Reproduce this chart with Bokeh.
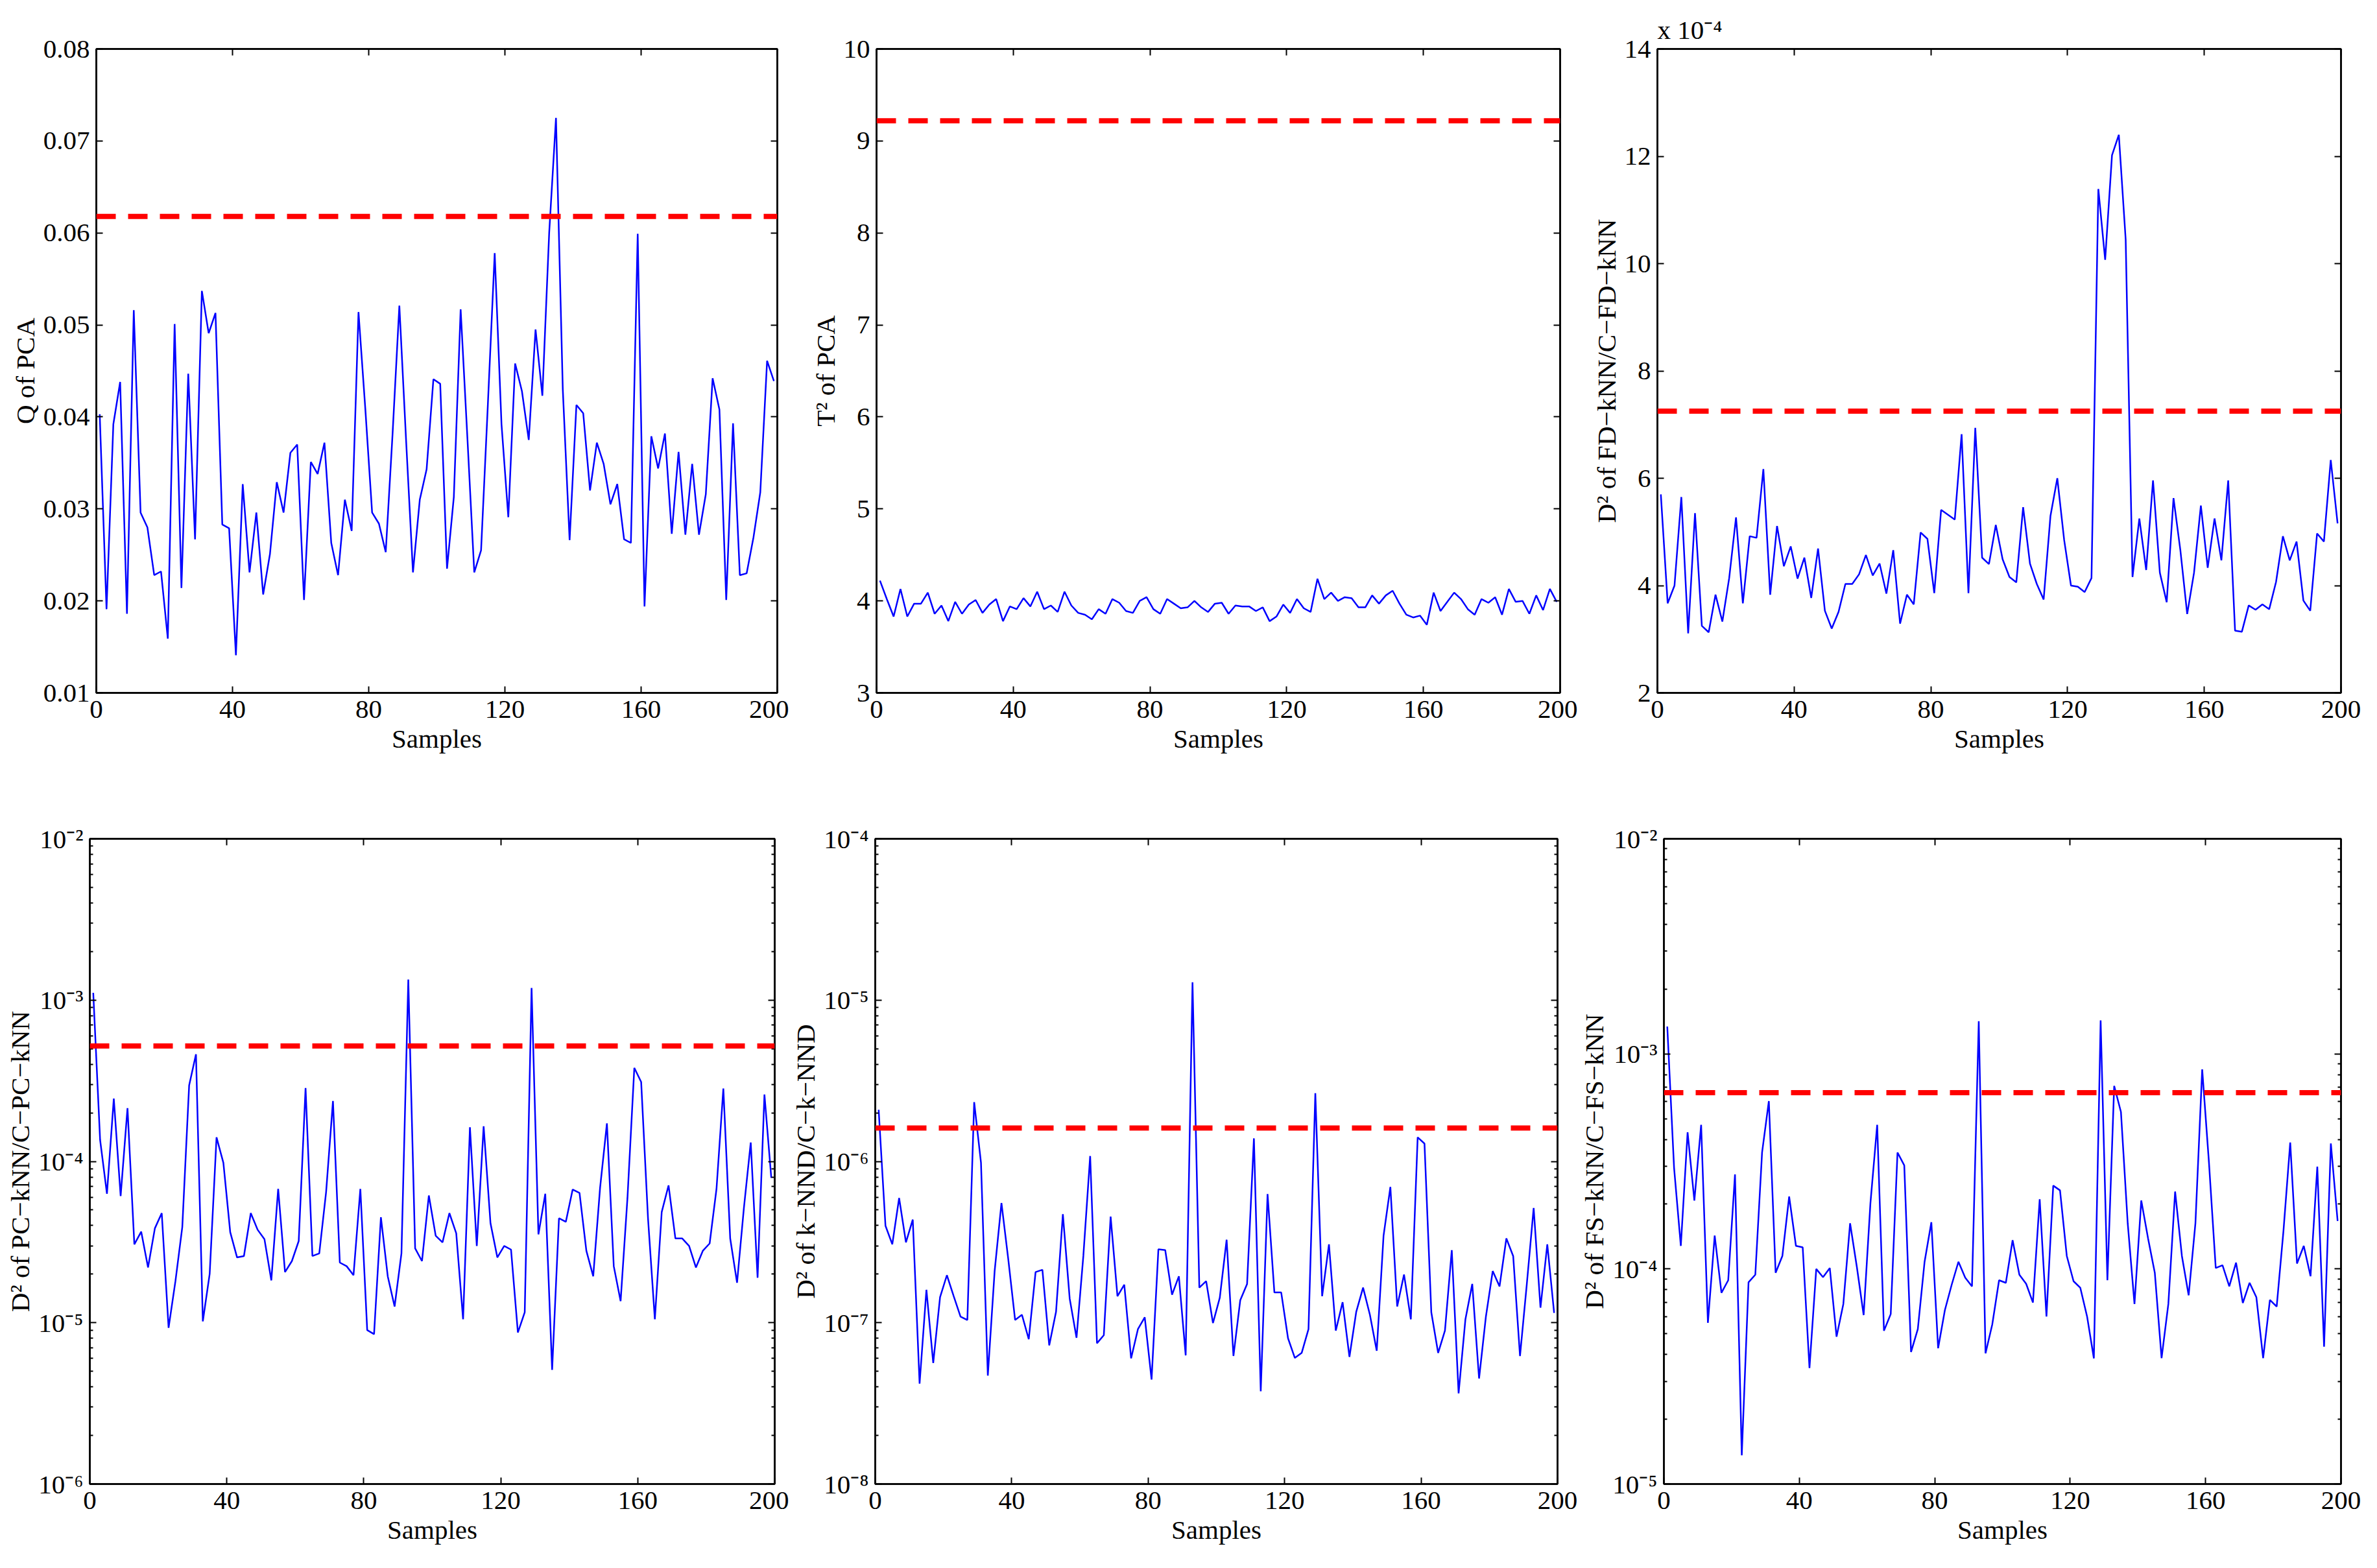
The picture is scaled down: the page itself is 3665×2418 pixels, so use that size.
from bokeh.plotting import figure
from bokeh.layouts import column, row
from bokeh.models import (Range1d, LinearAxis, LogAxis, FixedTicker,
                          CustomJSTickFormatter, Span)
from bokeh.embed import file_html
from bokeh.resources import INLINE

# ---------------- data ----------------
samples = list(range(1, 200, 2))

q_pca = [0.0403, 0.0191, 0.0392, 0.0438, 0.0186, 0.0516, 0.0296, 0.0280, 0.0228, 0.0232,
         0.0159, 0.0501, 0.0214, 0.0447, 0.0267, 0.0537, 0.0491, 0.0513, 0.0283, 0.0279,
         0.0141, 0.0327, 0.0231, 0.0296, 0.0207, 0.0251, 0.0329, 0.0296, 0.0361, 0.0370,
         0.0201, 0.0351, 0.0338, 0.0372, 0.0263, 0.0228, 0.0310, 0.0276, 0.0514, 0.0409,
         0.0296, 0.0284, 0.0253, 0.0381, 0.0521, 0.0373, 0.0231, 0.0310, 0.0343, 0.0441,
         0.0436, 0.0235, 0.0313, 0.0517, 0.0376, 0.0231, 0.0255, 0.0414, 0.0578, 0.0392,
         0.0291, 0.0458, 0.0428, 0.0375, 0.0495, 0.0423, 0.0600, 0.0725, 0.0430, 0.0266,
         0.0413, 0.0404, 0.0320, 0.0372, 0.0349, 0.0305, 0.0327, 0.0267, 0.0263, 0.0599,
         0.0194, 0.0379, 0.0344, 0.0382, 0.0273, 0.0362, 0.0272, 0.0349, 0.0272, 0.0316,
         0.0442, 0.0408, 0.0201, 0.0393, 0.0228, 0.0230, 0.0269, 0.0318, 0.0461, 0.0439]
q_pca_limit = 0.0618

t2_pca = [4.22, 4.02, 3.83, 4.13, 3.83, 3.97, 3.97, 4.09, 3.86, 3.95,
          3.78, 3.99, 3.86, 3.96, 4.01, 3.87, 3.96, 4.02, 3.78, 3.94,
          3.91, 4.03, 3.94, 4.10, 3.91, 3.95, 3.88, 4.10, 3.95, 3.87,
          3.85, 3.80, 3.91, 3.86, 4.02, 3.98, 3.89, 3.87, 4.00, 4.04,
          3.91, 3.86, 4.02, 3.97, 3.92, 3.93, 4.00, 3.93, 3.88, 3.97,
          3.98, 3.86, 3.95, 3.94, 3.94, 3.89, 3.93, 3.78, 3.83, 3.96,
          3.87, 4.02, 3.92, 3.88, 4.24, 4.02, 4.09, 4.00, 4.04, 4.03,
          3.93, 3.93, 4.06, 3.97, 4.06, 4.11, 3.97, 3.85, 3.82, 3.84,
          3.74, 4.09, 3.89, 3.99, 4.09, 4.02, 3.91, 3.85, 4.02, 3.98,
          4.04, 3.85, 4.13, 3.99, 4.00, 3.86, 4.06, 3.90, 4.13, 3.99]
t2_pca_limit = 9.22

# FD-kNN / C-FD-kNN statistic, in units of 1e-4
d2_fd_knn_e4 = [5.70, 3.67, 4.00, 5.65, 3.11, 5.35, 3.25, 3.13, 3.83, 3.33,
                4.14, 5.27, 3.67, 4.92, 4.89, 6.17, 3.83, 5.11, 4.36, 4.73,
                4.13, 4.52, 3.77, 4.69, 3.53, 3.20, 3.51, 4.03, 4.03, 4.21,
                4.57, 4.19, 4.41, 3.85, 4.66, 3.29, 3.83, 3.65, 4.99, 4.87,
                3.86, 5.41, 5.32, 5.23, 6.82, 3.86, 6.94, 4.52, 4.40, 5.13,
                4.49, 4.16, 4.06, 5.46, 4.41, 4.03, 3.74, 5.30, 6.00, 4.85,
                4.00, 3.98, 3.88, 4.14, 11.39, 10.07, 12.02, 12.40, 10.45, 4.16,
                5.25, 4.29, 5.96, 4.24, 3.69, 5.63, 4.66, 3.47, 4.24, 5.49,
                4.33, 5.25, 4.47, 5.96, 3.16, 3.14, 3.63, 3.55, 3.65, 3.56,
                4.07, 4.92, 4.47, 4.82, 3.72, 3.53, 4.97, 4.82, 6.34, 5.16]
d2_fd_knn_limit_e4 = 7.25

d2_pc_knn = [1.11e-3, 1.36e-4, 6.3e-5, 2.45e-4, 6.1e-5, 2.14e-4, 3.06e-5, 3.67e-5, 2.2e-5, 3.85e-5,
             4.78e-5, 9.3e-6, 1.81e-5, 3.91e-5, 2.96e-4, 4.62e-4, 1.02e-5, 2.01e-5, 1.41e-4, 9.8e-5,
             3.64e-5, 2.54e-5, 2.59e-5, 4.78e-5, 3.77e-5, 3.29e-5, 1.83e-5, 6.75e-5, 2.06e-5, 2.41e-5,
             3.21e-5, 2.85e-4, 2.59e-5, 2.69e-5, 6.47e-5, 2.37e-4, 2.36e-5, 2.24e-5, 1.97e-5, 6.75e-5,
             9.0e-6, 8.5e-6, 4.51e-5, 1.94e-5, 1.26e-5, 2.69e-5, 1.34e-3, 2.89e-5, 2.41e-5, 6.15e-5,
             3.46e-5, 3.15e-5, 4.78e-5, 3.58e-5, 1.05e-5, 1.63e-4, 2.99e-5, 1.65e-4, 4.14e-5, 2.54e-5,
             2.99e-5, 2.84e-5, 8.7e-6, 1.16e-5, 1.19e-3, 3.53e-5, 6.3e-5, 5.1e-6, 4.44e-5, 4.22e-5,
             6.7e-5, 6.38e-5, 2.79e-5, 1.94e-5, 6.85e-5, 1.72e-4, 2.24e-5, 1.36e-5, 5.93e-5, 3.8e-4,
             3.11e-4, 4.44e-5, 1.05e-5, 4.85e-5, 7.1e-5, 3.33e-5, 3.33e-5, 2.99e-5, 2.2e-5, 2.79e-5,
             3.1e-5, 6.75e-5, 2.83e-4, 3.33e-5, 1.77e-5, 5.14e-5, 1.31e-4, 1.9e-5, 2.6e-4, 7.9e-5]
d2_pc_knn_limit = 5.2e-4

d2_k_nnd = [2.09e-6, 3.99e-7, 3.06e-7, 5.93e-7, 3.15e-7, 4.36e-7, 4.19e-8, 1.6e-7, 5.63e-8, 1.44e-7,
            1.97e-7, 1.46e-7, 1.09e-7, 1.04e-7, 2.33e-6, 9.8e-7, 4.7e-8, 2.09e-7, 5.52e-7, 2.47e-7,
            1.04e-7, 1.12e-7, 7.9e-8, 2.06e-7, 2.13e-7, 7.24e-8, 1.17e-7, 4.71e-7, 1.41e-7, 8.07e-8,
            2.59e-7, 1.08e-6, 7.46e-8, 8.37e-8, 4.55e-7, 1.46e-7, 1.72e-7, 6.01e-8, 9.12e-8, 1.08e-7,
            4.44e-8, 2.85e-7, 2.82e-7, 1.49e-7, 1.94e-7, 6.27e-8, 1.29e-5, 1.65e-7, 1.81e-7, 9.95e-8,
            1.43e-7, 3.27e-7, 6.22e-8, 1.38e-7, 1.74e-7, 1.39e-6, 3.76e-8, 6.28e-7, 1.54e-7, 1.54e-7,
            8.01e-8, 6.05e-8, 6.5e-8, 9.12e-8, 2.65e-6, 1.46e-7, 3.06e-7, 8.93e-8, 1.34e-7, 6.14e-8,
            1.17e-7, 1.65e-7, 1.12e-7, 6.7e-8, 3.46e-7, 6.95e-7, 1.26e-7, 1.99e-7, 1.05e-7, 1.41e-6,
            1.29e-6, 1.16e-7, 6.5e-8, 8.93e-8, 2.82e-7, 3.65e-8, 1.05e-7, 1.74e-7, 4.51e-8, 1.09e-7,
            2.09e-7, 1.68e-7, 3.33e-7, 2.59e-7, 6.22e-8, 1.74e-7, 5.14e-7, 1.24e-7, 3.06e-7, 1.15e-7]
d2_k_nnd_limit = 1.61e-6

d2_fs_knn = [1.34e-3, 2.96e-4, 1.28e-4, 4.32e-4, 2.08e-4, 4.68e-4, 5.62e-5, 1.43e-4, 7.75e-5, 8.86e-5,
             2.75e-4, 1.36e-5, 8.67e-5, 9.4e-5, 3.48e-4, 6.03e-4, 9.6e-5, 1.15e-4, 2.17e-4, 1.28e-4,
             1.26e-4, 3.46e-5, 1.0e-4, 9.16e-5, 1.01e-4, 4.84e-5, 6.87e-5, 1.63e-4, 1.02e-4, 6.1e-5,
             2.02e-4, 4.68e-4, 5.16e-5, 6.17e-5, 3.48e-4, 3.03e-4, 4.11e-5, 5.25e-5, 1.08e-4, 1.65e-4,
             4.28e-5, 6.44e-5, 8.44e-5, 1.08e-4, 9.11e-5, 8.3e-5, 1.42e-3, 4.05e-5, 5.53e-5, 8.86e-5,
             8.62e-5, 1.36e-4, 9.4e-5, 8.53e-5, 6.98e-5, 2.11e-4, 6.01e-5, 2.44e-4, 2.32e-4, 1.15e-4,
             8.77e-5, 8.17e-5, 6.01e-5, 3.84e-5, 1.43e-3, 8.86e-5, 7.1e-4, 5.37e-4, 1.63e-4, 6.87e-5,
             2.08e-4, 1.39e-4, 9.6e-5, 3.85e-5, 6.87e-5, 2.29e-4, 1.15e-4, 7.54e-5, 1.63e-4, 8.47e-4,
             3.12e-4, 1.01e-4, 1.04e-4, 8.3e-5, 1.07e-4, 6.95e-5, 8.62e-5, 7.38e-5, 3.85e-5, 7.18e-5,
             6.68e-5, 1.5e-4, 3.87e-4, 1.06e-4, 1.28e-4, 9.25e-5, 2.99e-4, 4.35e-5, 3.83e-4, 1.67e-4]
d2_fs_knn_limit = 6.6e-4

x_ticks = [0, 40, 80, 120, 160, 200]
x_tick_labels = ["0", "40", "80", "120", "160", "200"]

q_ticks = [0.01, 0.02, 0.03, 0.04, 0.05, 0.06, 0.07, 0.08]
q_tick_labels = ["0.01", "0.02", "0.03", "0.04", "0.05", "0.06", "0.07", "0.08"]
t2_ticks = [3, 4, 5, 6, 7, 8, 9, 10]
t2_tick_labels = ["3", "4", "5", "6", "7", "8", "9", "10"]
fd_ticks = [2, 4, 6, 8, 10, 12, 14]
fd_tick_labels = ["2", "4", "6", "8", "10", "12", "14"]
pc_ticks = [1e-6, 1e-5, 1e-4, 1e-3, 1e-2]
pc_tick_labels = ["10⁻⁶", "10⁻⁵", "10⁻⁴", "10⁻³", "10⁻²"]
nnd_ticks = [1e-8, 1e-7, 1e-6, 1e-5, 1e-4]
nnd_tick_labels = ["10⁻⁸", "10⁻⁷", "10⁻⁶", "10⁻⁵", "10⁻⁴"]
fs_ticks = [1e-5, 1e-4, 1e-3, 1e-2]
fs_tick_labels = ["10⁻⁵", "10⁻⁴", "10⁻³", "10⁻²"]

FONT = "Liberation Serif"
FS = "41px"


def label_formatter(tvals, tlabels):
    return CustomJSTickFormatter(args=dict(tvals=tvals, tlabels=tlabels), code="""
        for (let i = 0; i < tvals.length; i++) {
            if (Math.abs(tvals[i] - tick) <= 1e-9 * Math.abs(tvals[i])) { return tlabels[i]; }
        }
        return "";
    """)


def blank_formatter():
    return CustomJSTickFormatter(code="return '';")


def minor_log(tvals):
    return [m * t for t in tvals[:-1] for m in range(2, 10)]


def style_axis(ax, log=False, visible_labels=True):
    ax.major_tick_in = 10
    ax.major_tick_out = 0
    ax.major_tick_line_width = 2
    ax.major_tick_line_color = "black"
    if log:
        ax.minor_tick_in = 5
        ax.minor_tick_out = 0
        ax.minor_tick_line_width = 2
        ax.minor_tick_line_color = "black"
    else:
        ax.minor_tick_line_color = None
    ax.axis_line_width = 2.5
    ax.axis_line_color = "black"
    ax.major_label_text_font = FONT
    ax.major_label_text_font_size = FS if visible_labels else "0px"
    ax.major_label_text_color = "black"
    ax.axis_label_text_font = FONT
    ax.axis_label_text_font_size = FS
    ax.axis_label_text_font_style = "normal"
    ax.axis_label_text_color = "black"
    if not visible_labels:
        ax.major_label_standoff = 0


def make_panel(values, limit, yticks, ylabels, yrange, ylabel, log,
               width, height, bl, br, bt, bb, title=None):
    p = figure(width=width, height=height, output_backend="svg", toolbar_location=None,
               x_range=Range1d(0, 200), y_range=Range1d(*yrange),
               y_axis_type="log" if log else "linear",
               min_border_left=bl, min_border_right=br,
               min_border_top=bt, min_border_bottom=bb,
               background_fill_color="white", border_fill_color="white")
    p.xgrid.grid_line_color = None
    p.ygrid.grid_line_color = None
    p.outline_line_color = "black"
    p.outline_line_width = 2.5

    p.line(samples, values, line_color="#0000ff", line_width=2.5)
    p.add_layout(Span(location=limit, dimension="width", line_color="#ff0000",
                      line_width=8, line_dash="30 19"))

    yminor = minor_log(yticks) if log else []

    # bottom axis
    xa = p.xaxis[0]
    xa.ticker = FixedTicker(ticks=x_ticks)
    xa.formatter = label_formatter(x_ticks, x_tick_labels)
    xa.axis_label = "Samples"
    style_axis(xa)
    xa.major_label_standoff = 12
    xa.axis_label_standoff = 6

    # left axis
    ya = p.yaxis[0]
    ya.ticker = FixedTicker(ticks=yticks, minor_ticks=yminor)
    ya.formatter = label_formatter(yticks, ylabels)
    ya.axis_label = ylabel
    style_axis(ya, log=log)
    ya.major_label_standoff = 10
    ya.axis_label_standoff = 2

    # mirrored top / right axes (ticks only)
    top = LinearAxis(ticker=FixedTicker(ticks=x_ticks), formatter=blank_formatter())
    style_axis(top, visible_labels=False)
    p.add_layout(top, "above")
    AxisCls = LogAxis if log else LinearAxis
    right = AxisCls(ticker=FixedTicker(ticks=yticks, minor_ticks=yminor),
                    formatter=blank_formatter())
    style_axis(right, log=log, visible_labels=False)
    p.add_layout(right, "right")

    if title:
        p.title.text = title
        p.title.text_font = FONT
        p.title.text_font_size = FS
        p.title.text_font_style = "normal"
        p.title.align = "left"
        p.title.text_color = "black"
        p.title.standoff = 14
    return p


W = 1216
H1 = 1204
H2 = 1204

p1 = make_panel(q_pca, q_pca_limit, q_ticks, q_tick_labels, (0.01, 0.08),
                "Q of PCA", False, W, H1, 148, 18, 75, 136)
p2 = make_panel(t2_pca, t2_pca_limit, t2_ticks, t2_tick_labels, (3, 10),
                "T² of PCA", False, W, H1, 135, 27, 75, 136)
p3 = make_panel(d2_fd_knn_e4, d2_fd_knn_limit_e4, fd_ticks, fd_tick_labels, (2, 14),
                "D² of FD−kNN/C−FD−kNN", False, W, H1, 123, 39, 75, 136,
                title="x 10⁻⁴")
p4 = make_panel(d2_pc_knn, d2_pc_knn_limit, pc_ticks, pc_tick_labels, (1e-6, 1e-2),
                "D² of PC−kNN/C−PC−kNN", True, W, H2, 138, 22, 89, 120)
p5 = make_panel(d2_k_nnd, d2_k_nnd_limit, nnd_ticks, nnd_tick_labels, (1e-8, 1e-4),
                "D² of k−NND/C−k−NND", True, W, H2, 129, 31, 89, 120)
p6 = make_panel(d2_fs_knn, d2_fs_knn_limit, fs_ticks, fs_tick_labels, (1e-5, 1e-2),
                "D² of FS−kNN/C−FS−kNN", True, W, H2, 120, 39, 89, 120)

layout = column(row(p1, p2, p3), row(p4, p5, p6))

with open("out.html", "w") as f:
    f.write(file_html(layout, INLINE))
